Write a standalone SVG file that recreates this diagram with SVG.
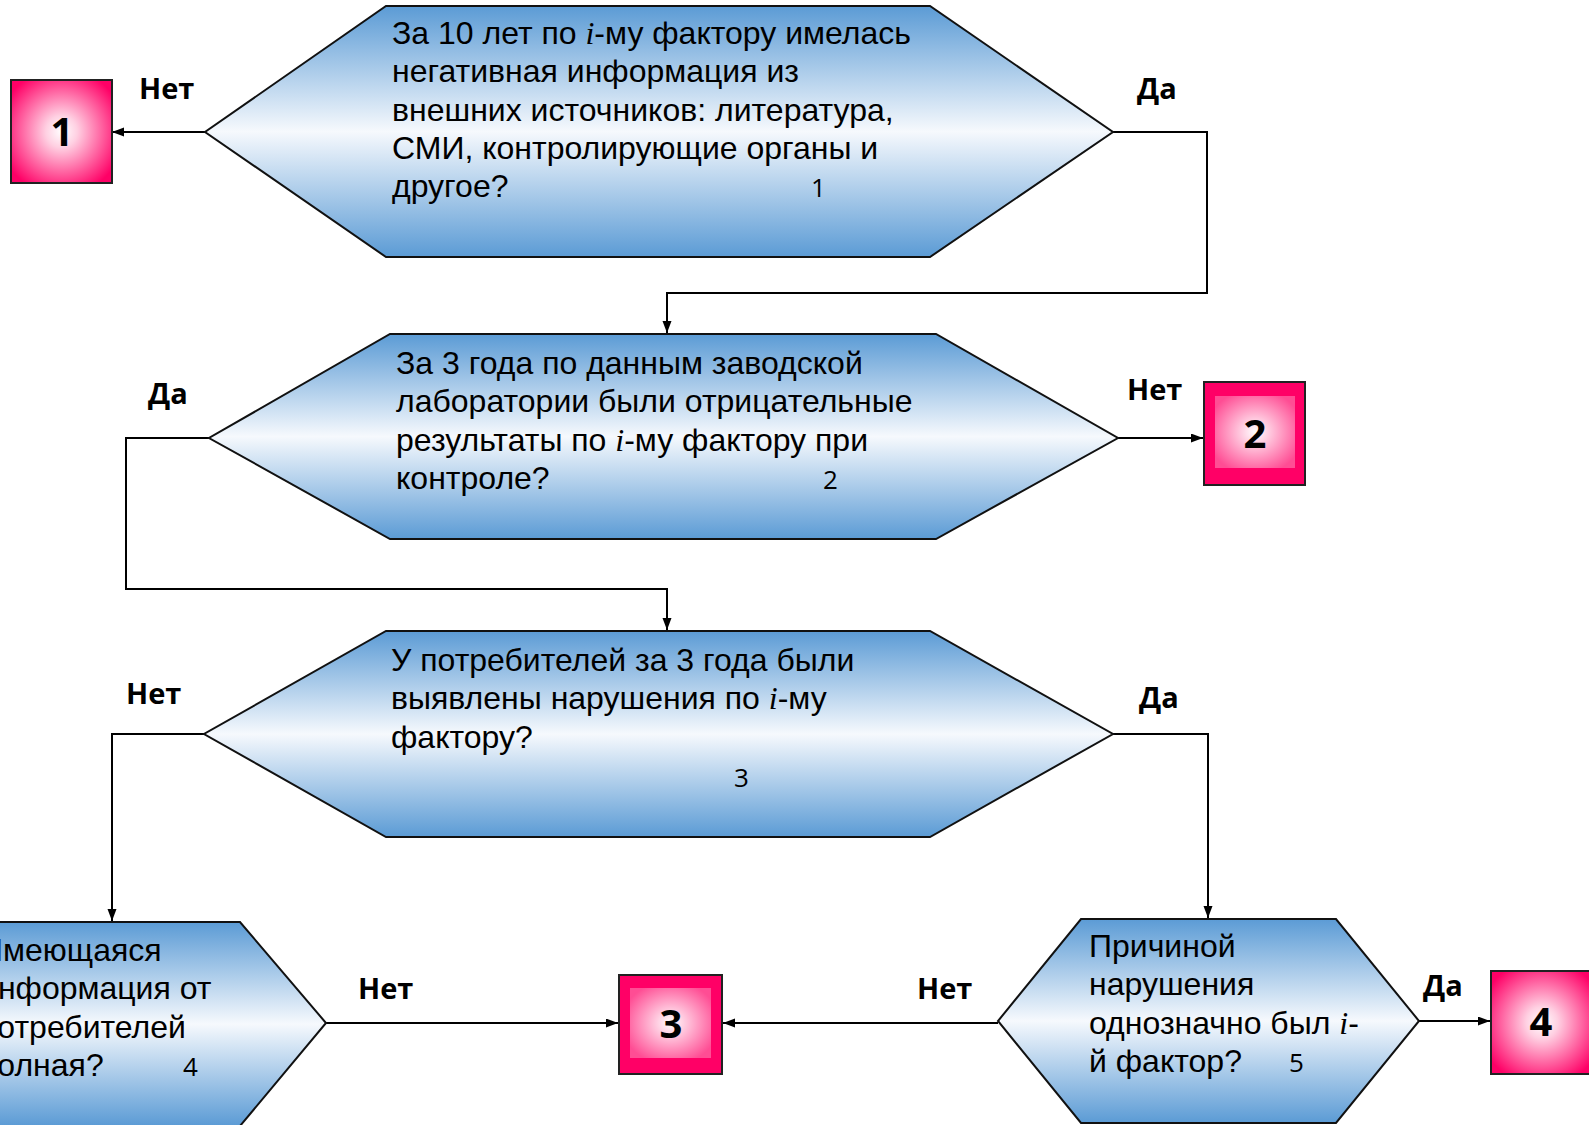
<svg xmlns="http://www.w3.org/2000/svg" width="1589" height="1125" viewBox="0 0 1589 1125">
<defs>
<linearGradient id="hexg" x1="0" y1="0" x2="0" y2="1">
<stop offset="0" stop-color="#5B9BD5"/>
<stop offset="0.5" stop-color="#F6F9FD"/>
<stop offset="1" stop-color="#5B9BD5"/>
</linearGradient>
<radialGradient id="boxr" cx="0.5" cy="0.5" r="0.62">
<stop offset="0" stop-color="#FFFFFF"/>
<stop offset="0.25" stop-color="#FFD0E2"/>
<stop offset="1" stop-color="#FF0066"/>
</radialGradient>
<radialGradient id="boxs" cx="0.5" cy="0.5" r="0.6">
<stop offset="0" stop-color="#FFFFFF"/>
<stop offset="1" stop-color="#FF4D94"/>
</radialGradient>
<marker id="arr" markerUnits="userSpaceOnUse" markerWidth="13" markerHeight="10" refX="12" refY="4.5" orient="auto">
<path d="M0,0 L12,4.5 L0,9 z" fill="#000"/>
</marker>
<style>
.hex{fill:url(#hexg);stroke:#111;stroke-width:2}
.boxr{fill:url(#boxr);stroke:#222;stroke-width:2}
.boxs{fill:#FF0066;stroke:#222;stroke-width:2}
.t{font-family:"Liberation Sans",Arial,sans-serif;font-size:32px;fill:#000}
.i{font-family:"Liberation Serif","Times New Roman",serif;font-style:italic}
.n{font-family:"Open Sans","Liberation Sans",sans-serif;font-size:26px;fill:#000}
.lbl{font-family:"Open Sans","Liberation Sans",sans-serif;font-weight:bold;font-size:29px;fill:#000}
.num{font-family:"Open Sans","Liberation Sans",sans-serif;font-weight:bold;font-size:40px;fill:#000;text-anchor:middle}
.c{fill:none;stroke:#000;stroke-width:2}
</style>
</defs>
<rect width="1589" height="1125" fill="#fff"/>

<g id="connectors">
<polyline class="c" points="205,132 112,132" marker-end="url(#arr)"/>
<polyline class="c" points="1113,132 1207,132 1207,293 667,293 667,333" marker-end="url(#arr)"/>
<polyline class="c" points="1118,438 1203,438" marker-end="url(#arr)"/>
<polyline class="c" points="209,438 126,438 126,589 667,589 667,630" marker-end="url(#arr)"/>
<polyline class="c" points="204,734 112,734 112,921" marker-end="url(#arr)"/>
<polyline class="c" points="1113,734 1208,734 1208,918" marker-end="url(#arr)"/>
<polyline class="c" points="326,1023 618,1023" marker-end="url(#arr)"/>
<polyline class="c" points="998,1023 723,1023" marker-end="url(#arr)"/>
<polyline class="c" points="1419,1021 1490,1021" marker-end="url(#arr)"/>
<text class="lbl" x="139" y="99">Нет</text>
<text class="lbl" x="1137" y="99">Да</text>
<text class="lbl" x="148" y="404">Да</text>
<text class="lbl" x="1127" y="400">Нет</text>
<text class="lbl" x="126" y="704">Нет</text>
<text class="lbl" x="1139" y="708">Да</text>
<text class="lbl" x="358" y="999">Нет</text>
<text class="lbl" x="917" y="999">Нет</text>
<text class="lbl" x="1423" y="996">Да</text>
</g>

<g id="q1">
<polygon class="hex" points="386,6 930,6 1113,132 930,257 386,257 205,132"/>
<text class="t" x="392" y="44">За 10 лет по <tspan class="i">i</tspan>-му фактору имелась</text>
<text class="t" x="392" y="82">негативная информация из</text>
<text class="t" x="392" y="121">внешних источников: литература,</text>
<text class="t" x="392" y="159">СМИ, контролирующие органы и</text>
<text class="t" x="392" y="197">другое?</text>
<text class="n" x="811" y="197">1</text>
</g>

<g id="q2">
<polygon class="hex" points="390,334 936,334 1118,438 936,539 390,539 209,438"/>
<text class="t" x="396" y="374">За 3 года по данным заводской</text>
<text class="t" x="396" y="412">лаборатории были отрицательные</text>
<text class="t" x="396" y="451">результаты по <tspan class="i">i</tspan>-му фактору при</text>
<text class="t" x="396" y="489">контроле?</text>
<text class="n" x="823" y="489">2</text>
</g>

<g id="q3">
<polygon class="hex" points="386,631 930,631 1113,734 930,837 386,837 204,734"/>
<text class="t" x="391" y="671">У потребителей за 3 года были</text>
<text class="t" x="391" y="709">выявлены нарушения по <tspan class="i">i</tspan>-му</text>
<text class="t" x="391" y="748">фактору?</text>
<text class="n" x="734" y="787">3</text>
</g>

<g id="q4">
<polygon class="hex" points="-300,922 240,922 326,1023 240,1126 -300,1126 -386,1023"/>
<text class="t" x="-20" y="961">Имеющаяся</text>
<text class="t" x="-20" y="999">информация от</text>
<text class="t" x="-20" y="1038">потребителей</text>
<text class="t" x="-20" y="1076">полная?</text>
<text class="n" x="183" y="1076">4</text>
</g>

<g id="q5">
<polygon class="hex" points="1081,919 1336,919 1419,1021 1336,1123 1081,1123 998,1021"/>
<text class="t" x="1089" y="957">Причиной</text>
<text class="t" x="1089" y="995">нарушения</text>
<text class="t" x="1089" y="1034">однозначно был <tspan class="i">i</tspan>-</text>
<text class="t" x="1089" y="1072">й фактор?</text>
<text class="n" x="1289" y="1072">5</text>
</g>

<g id="r1">
<rect class="boxr" x="11" y="80" width="101" height="103"/>
<text class="num" x="62" y="146">1</text>
</g>

<g id="r2">
<rect class="boxs" x="1204" y="382" width="101" height="103"/>
<rect x="1215" y="396" width="80" height="72" fill="url(#boxs)"/>
<text class="num" x="1255" y="448">2</text>
</g>

<g id="r3">
<rect class="boxs" x="619" y="975" width="103" height="99"/>
<rect x="630" y="988" width="81" height="70" fill="url(#boxs)"/>
<text class="num" x="671" y="1038">3</text>
</g>

<g id="r4">
<rect class="boxr" x="1491" y="971" width="102" height="103"/>
<text class="num" x="1541" y="1036">4</text>
</g>
</svg>
